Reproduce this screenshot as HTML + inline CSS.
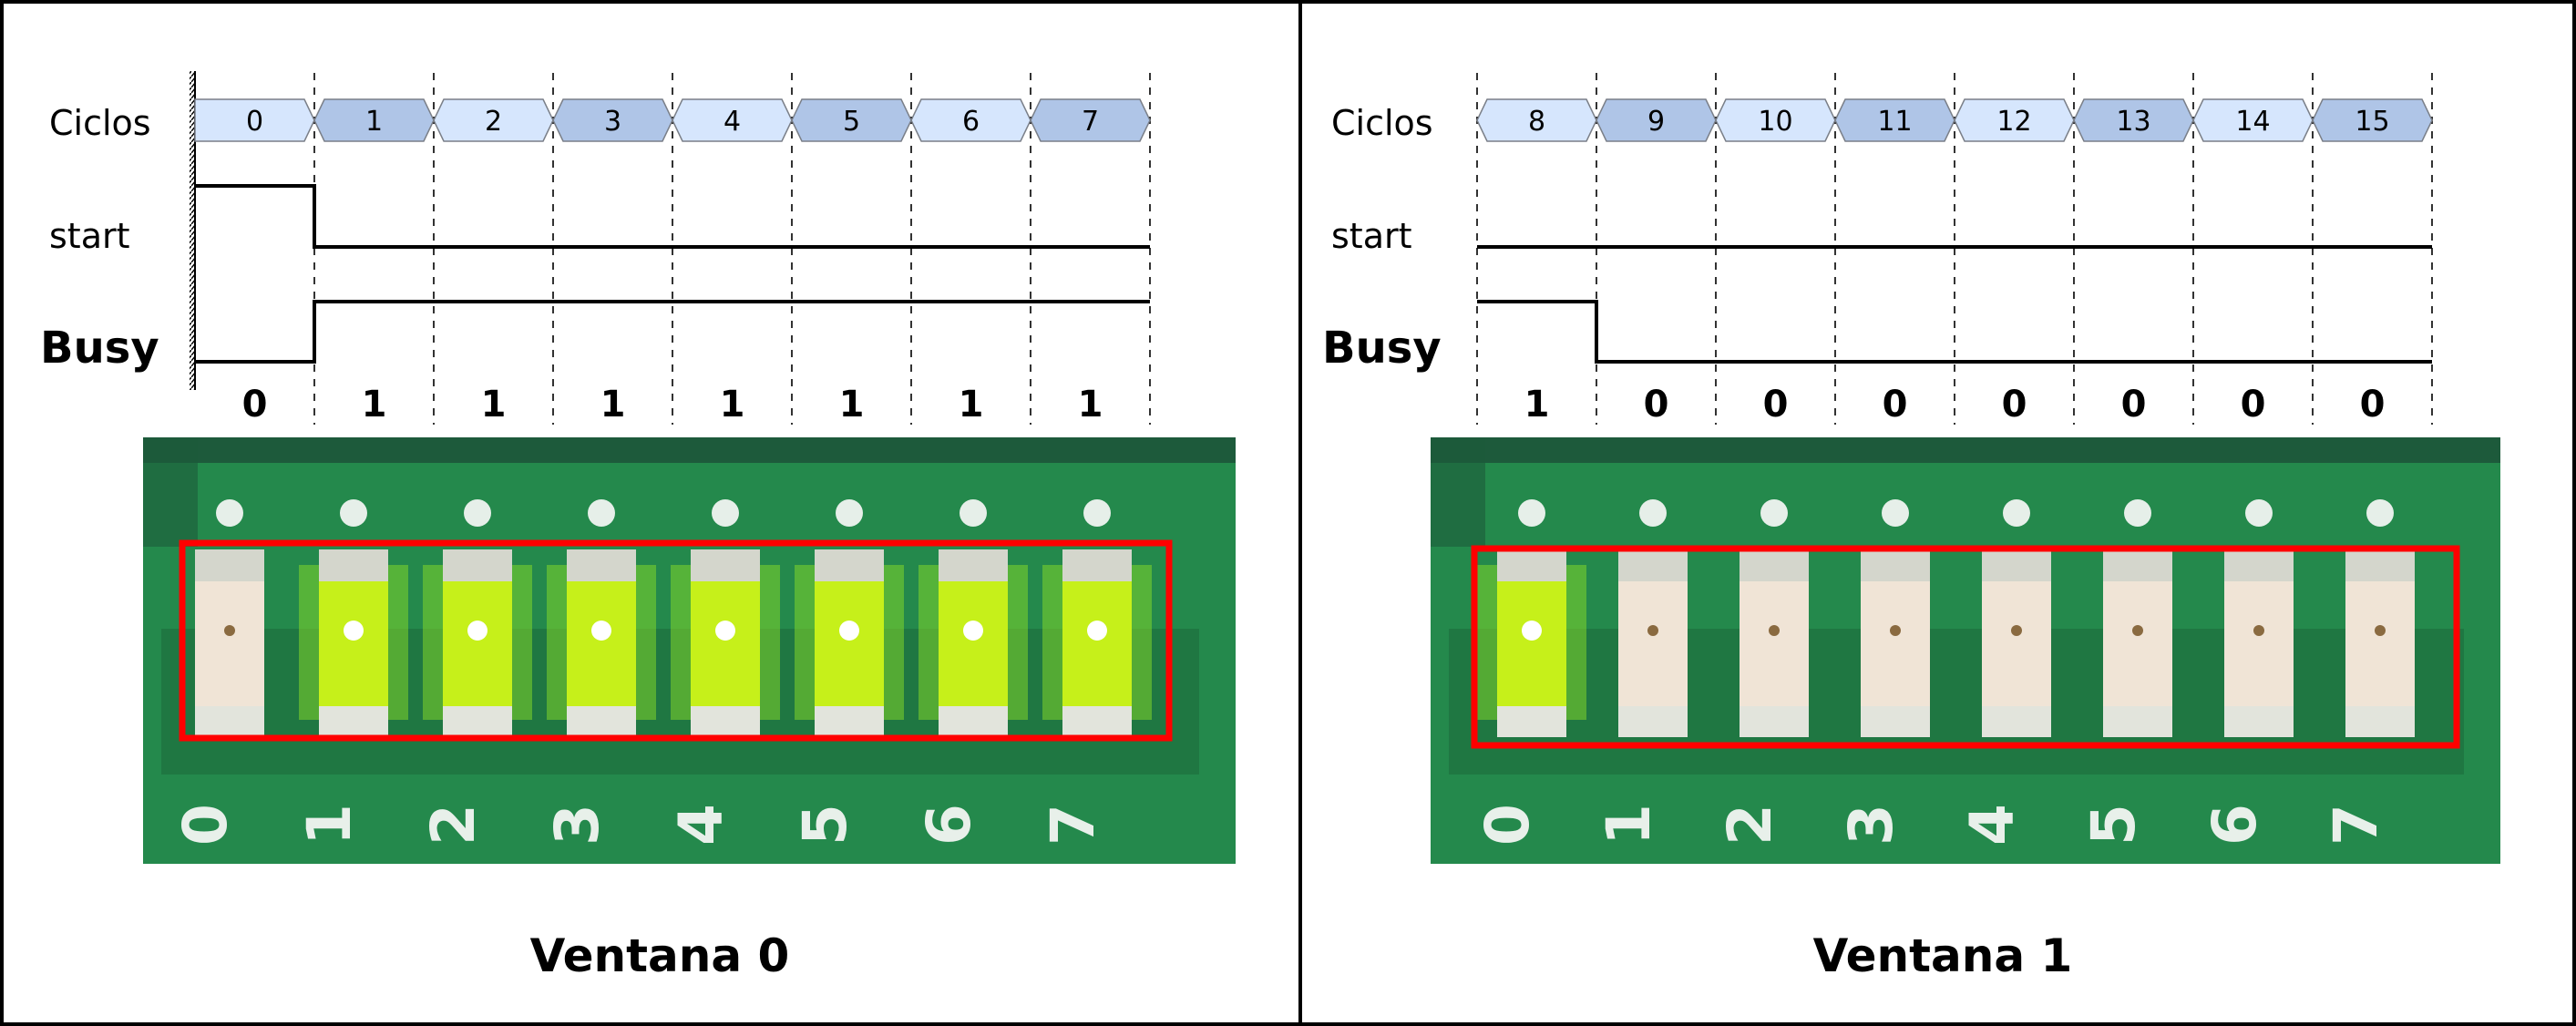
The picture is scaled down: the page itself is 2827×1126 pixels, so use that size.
<!DOCTYPE html>
<html><head><meta charset="utf-8"><style>
html,body{margin:0;padding:0;background:#fff}
svg{display:block}
text{font-family:"DejaVu Sans","Liberation Sans",sans-serif}
</style></head><body>
<svg id="root" xmlns="http://www.w3.org/2000/svg" width="2827" height="1126" viewBox="0 0 2827 1126">
<defs>
<pattern id="hatch" width="5" height="6" patternUnits="userSpaceOnUse"><rect width="5" height="6" fill="#fff"/><line x1="0" y1="6" x2="5" y2="0" stroke="#000" stroke-width="1.5"/></pattern>
</defs>
<rect x="2" y="2" width="2823" height="1122" fill="#fff" stroke="#000" stroke-width="4"/>
<line x1="1427" y1="0" x2="1427" y2="1126" stroke="#000" stroke-width="4"/>
<g id="panels"></g>
</svg>
<script>
const cycles0 = [0,1,2,3,4,5,6,7];
const cycles1 = [8,9,10,11,12,13,14,15];
const start0 = [1,0,0,0,0,0,0,0];
const start1 = [0,0,0,0,0,0,0,0];
const busy0 = [0,1,1,1,1,1,1,1];
const busy1 = [1,0,0,0,0,0,0,0];
const leds0 = [0,1,1,1,1,1,1,1];
const leds1 = [1,0,0,0,0,0,0,0];
const titles = ["Ventana 0","Ventana 1"];

const NS="http://www.w3.org/2000/svg";
const root=document.getElementById('panels');
function mk(tag,attrs,parent){const e=document.createElementNS(NS,tag);for(const k in attrs)e.setAttribute(k,attrs[k]);(parent||root).appendChild(e);return e;}

const CW=131;
function panel(ox,cycles,startV,busyV,leds,title,wall,photoX,photoW,rect,ledX,ledStep,idx,titleX){
  const g=mk('g',{});
  
  
  const xOf=i=>ox+i*CW;
  for(let i=(wall?1:0);i<=cycles.length;i++){
    const l=mk('line',{x1:xOf(i),y1:80,x2:xOf(i),y2:466,stroke:'#000','stroke-width':1.6,'stroke-dasharray':'8,8'},g);
    
    
  }
  if(wall){
    const w=mk('rect',{x:ox-6,y:78,width:6,height:350,fill:'url(#hatch)'},g);
    
    
    mk('line',{x1:ox,y1:78,x2:ox,y2:428,stroke:'#000','stroke-width':2},g);
  }
  const lab=[['Ciclos',148,38,'normal','ciclos-label'],['start',272,38,'normal','start-label'],['Busy',398,48,'bold','busy-label']];
  lab.forEach(a=>{const t=mk('text',{x:ox-160+(a[0]=='Busy'?-10:0),y:a[1],'font-size':a[2],'font-weight':a[3]},g);t.textContent=a[0];
    });
  cycles.forEach((c,i)=>{
    const x0=xOf(i),x1=xOf(i+1),h=11,yt=109,yb=155,ym=132;
    const pts=(wall&&i==0)?`${x0},${yt} ${x1-h},${yt} ${x1},${ym} ${x1-h},${yb} ${x0},${yb}`
      :`${x0},${ym} ${x0+h},${yt} ${x1-h},${yt} ${x1},${ym} ${x1-h},${yb} ${x0+h},${yb}`;
    const p=mk('polygon',{points:pts,fill:(c%2==0)?'#d6e6fd':'#afc5e7',stroke:'#7a7f88','stroke-width':1.5},g);
    
    
    const t=mk('text',{x:(x0+x1)/2,y:143,'font-size':30,'text-anchor':'middle'},g);t.textContent=c;
    
    
  });
  function wave(vals,yHi,yLo,name){
    let d='';
    vals.forEach((v,i)=>{const y=v?yHi:yLo;d+=(i==0?'M':'L')+xOf(i)+','+y+' L'+xOf(i+1)+','+y+' ';});
    const p=mk('path',{d:d,fill:'none',stroke:'#000','stroke-width':4},g);
    
    
  }
  wave(startV,204,271,'start-wave');
  wave(busyV,331,397,'busy-wave');
  busyV.forEach((v,i)=>{const t=mk('text',{x:xOf(i)+CW/2,y:457,'font-size':40,'font-weight':'bold','text-anchor':'middle'},g);t.textContent=v;
    
    });
  const ph=mk('g',{},g);
  
  
  mk('rect',{x:photoX,y:480,width:photoW,height:468,fill:'#24894c'},ph);
  mk('rect',{x:photoX,y:480,width:photoW,height:28,fill:'#1d5a3b'},ph);
  mk('rect',{x:photoX,y:480,width:60,height:120,fill:'#1d5a3b',opacity:0.6},ph);
  mk('rect',{x:photoX+20,y:690,width:photoW-60,height:160,fill:'#1c6b3c',opacity:0.6},ph);
  leds.forEach((on,i)=>{
    const cx=ledX+i*ledStep;
    mk('circle',{cx:cx,cy:563,r:15,fill:'#e6efe9'},ph);
    if(on) mk('rect',{x:cx-60,y:620,width:120,height:170,fill:'#7fd62a',opacity:0.55},ph);
    const body=mk('rect',{x:cx-38,y:603,width:76,height:206,fill:on?'#c6f01a':'#f0e4d6'},ph);
    
    
    mk('rect',{x:cx-38,y:603,width:76,height:35,fill:'#d4d6cc'},ph);
    mk('rect',{x:cx-38,y:775,width:76,height:34,fill:'#e2e4dc'},ph);
    mk('circle',{cx:cx,cy:692,r:on?11:6,fill:on?'#fff':'#8a6a40'},ph);
    const t=mk('text',{x:0,y:0,'font-size':66,'font-weight':'bold',fill:'#e8f0ea','text-anchor':'middle',transform:`translate(${cx-4},905) rotate(-90)`},ph);
    t.textContent=i;
  });
  const r=mk('rect',{x:rect[0],y:rect[1],width:rect[2],height:rect[3],fill:'none',stroke:'#f00','stroke-width':7},g);
  
  
  const tt=mk('text',{x:titleX,y:1066,'font-size':50,'font-weight':'bold','text-anchor':'middle'},g);
  tt.textContent=title;
  
  
}
panel(214,cycles0,start0,busy0,leds0,titles[0],true,157,1199,[200,596,1083,214],252,136,0,724);
panel(1621,cycles1,start1,busy1,leds1,titles[1],false,1570,1174,[1618,602,1078,216],1681,133,1,2132);
</script>
</body></html>
